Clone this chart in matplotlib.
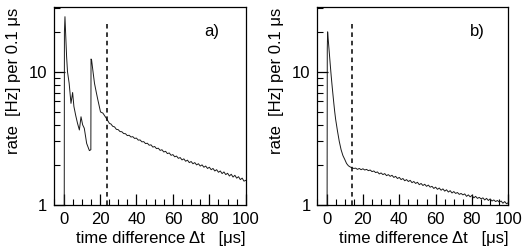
import numpy as np
import matplotlib
matplotlib.use("Agg")
import matplotlib.pyplot as plt
from matplotlib.ticker import LogLocator, MultipleLocator, FixedLocator, NullFormatter

plt.rcParams['font.family'] = ['Liberation Sans', 'DejaVu Sans']

# panel a)
a_head_t = [0.4, 0.5, 0.8, 1.2, 1.7, 2.2, 3.1, 4.1, 5.0, 5.7, 6.7, 7.7, 8.7, 9.6, 10.5,
            11.4, 12.7, 14.2, 15.0, 15.1, 15.4, 16.2, 17.0, 18.0, 18.8, 20.3, 21.6, 23.4, 25.2]
a_head_r = [0.9, 20.0, 26.0, 19.0, 13.0, 10.0, 8.2, 5.8, 7.0, 5.5, 4.7, 4.1, 3.66, 4.6, 4.0,
            3.77, 2.9, 2.56, 2.6, 12.5, 12.3, 10.0, 8.2, 7.0, 6.2, 5.0, 4.9, 4.5, 4.1]
a_tail_t = list(range(26, 101))
a_tail_r = [4.06, 3.90, 3.86, 3.70, 3.68, 3.56, 3.55, 3.44, 3.43, 3.32, 3.34, 3.24, 3.26,
            3.16, 3.18, 3.07, 3.08, 2.98, 2.99, 2.89, 2.91, 2.81, 2.83, 2.72, 2.75, 2.65,
            2.67, 2.57, 2.60, 2.50, 2.53, 2.43, 2.46, 2.36, 2.39, 2.30, 2.33, 2.24, 2.27,
            2.18, 2.22, 2.13, 2.17, 2.08, 2.12, 2.04, 2.08, 2.00, 2.04, 1.96, 2.00, 1.92,
            1.96, 1.88, 1.92, 1.84, 1.88, 1.80, 1.84, 1.76, 1.80, 1.72, 1.77, 1.69, 1.73,
            1.65, 1.70, 1.62, 1.67, 1.59, 1.63, 1.55, 1.59, 1.51, 1.53]
a_cut = 24

# panel b)
b_head_t = [0.3, 0.4, 0.6, 1.0, 1.5, 2.0, 2.5, 3.0, 3.5, 4.0, 4.5, 5.0, 6.0, 7.0, 8.0,
            9.0, 10.0, 11.0, 12.0, 13.0, 14.0, 15.0]
b_head_r = [0.9, 15.0, 20.0, 17.0, 14.0, 11.5, 9.5, 8.0, 6.8, 5.8, 5.0, 4.4, 3.6, 3.0, 2.6,
            2.35, 2.2, 2.05, 1.97, 1.93, 1.90, 1.88]
b_tail_t = list(range(16, 101))
b_tail_r = [1.89, 1.85, 1.88, 1.84, 1.87, 1.83, 1.85, 1.81, 1.83, 1.78, 1.80, 1.75, 1.77,
            1.71, 1.74, 1.69, 1.72, 1.66, 1.69, 1.64, 1.67, 1.61, 1.64, 1.58, 1.61, 1.55,
            1.58, 1.52, 1.55, 1.50, 1.53, 1.47, 1.50, 1.45, 1.48, 1.42, 1.45, 1.40, 1.43,
            1.38, 1.41, 1.36, 1.38, 1.33, 1.36, 1.31, 1.34, 1.29, 1.32, 1.27, 1.30, 1.25,
            1.28, 1.23, 1.26, 1.22, 1.24, 1.20, 1.22, 1.19, 1.21, 1.16, 1.19, 1.15, 1.18,
            1.13, 1.16, 1.12, 1.14, 1.11, 1.13, 1.09, 1.12, 1.08, 1.11, 1.07, 1.09, 1.06,
            1.08, 1.05, 1.07, 1.03, 1.06, 1.02, 1.04]
b_cut = 14

cut_top = 23
panel_labels = ['a)', 'b)']
label_x = [0.82, 0.84]

fig = plt.figure(figsize=(5.23, 2.49), dpi=100)
ax_a = fig.add_axes([0.104, 0.177, 0.366, 0.793])
ax_b = fig.add_axes([0.607, 0.177, 0.365, 0.793])

panels = [(ax_a, a_head_t + a_tail_t, a_head_r + a_tail_r, a_cut),
          (ax_b, b_head_t + b_tail_t, b_head_r + b_tail_r, b_cut)]

for (ax, t, r, cut), lab, lx in zip(panels, panel_labels, label_x):
    ax.plot(t, r, color='#1a1a1a', lw=0.7)
    ax.plot([cut, cut], [1, cut_top], color='k', lw=1.1, linestyle=(0, (3, 2.5)))
    ax.set_yscale('log')
    ax.set_xlim(-5, 100)
    ax.set_ylim(1, 30.5)
    ax.xaxis.set_major_locator(MultipleLocator(20))
    ax.xaxis.set_minor_locator(MultipleLocator(5))
    ax.yaxis.set_major_locator(FixedLocator([1, 10]))
    ax.yaxis.set_major_formatter(matplotlib.ticker.FixedFormatter(['1', '10']))
    ax.yaxis.set_minor_locator(LogLocator(base=10, subs=np.arange(2, 10)))
    ax.yaxis.set_minor_formatter(NullFormatter())
    ax.tick_params(which='both', direction='in', labelsize=12, top=False, right=False)
    ax.tick_params(which='major', length=8, width=0.9, pad=5)
    ax.tick_params(which='minor', length=4, width=0.8)
    for s in ax.spines.values():
        s.set_linewidth(0.9)
    ax.set_xlabel('time difference Δt   [μs]', fontsize=12, loc='right', labelpad=3)
    ax.set_ylabel('rate  [Hz] per 0.1 μs', fontsize=12, loc='top', labelpad=6)
    ax.text(lx, 0.88, lab, transform=ax.transAxes, fontsize=12, ha='center', va='center')

fig.savefig('out.png', dpi=100)
